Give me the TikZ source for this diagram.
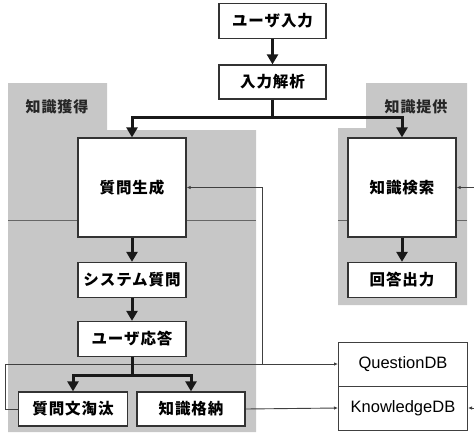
\documentclass[tikz,border=0pt]{standalone}
\usepackage{fontspec}
\newfontfamily\jp{Noto Sans CJK JP}[LetterSpace=6]
\newfontfamily\lat{Liberation Sans}
\usetikzlibrary{arrows.meta}
\begin{document}
\begin{tikzpicture}[x=1pt,y=-1pt,
  box/.style={draw=black!80,line width=1.3pt,fill=white,inner sep=0pt,font=\jp\bfseries\fontsize{15.5}{17}\selectfont},
  dbbox/.style={draw=black!75,line width=1pt,fill=white,inner sep=0pt,minimum width=129pt,minimum height=44pt,font=\lat\fontsize{16.5}{19}\selectfont},
  region/.style={fill=black!22,draw=none},
  seam/.style={draw=black!60,line width=0.8pt},
  bar/.style={line width=3pt,draw=black!90},
  bararrow/.style={bar,-{Triangle[width=11pt,length=10pt]}},
  thin/.style={draw=black!75,line width=0.9pt},
  thinarrow/.style={thin,-{Latex[width=3.5pt,length=4pt]}},
  lbl/.style={font=\jp\bfseries\fontsize{15}{16}\selectfont,text=black!85}
]
\useasboundingbox (0,0) rectangle (474,434);
% shaded regions
\path[region] (8,83) -- (107,83) -- (107,130) -- (256,130) -- (256,432) -- (8,432) -- cycle;
\path[region] (366,83) -- (467,83) -- (467,305) -- (338,305) -- (338,128) -- (366,128) -- cycle;
\node[lbl] (lA) at (57,107) {知識獲得};
\node[lbl] (lB) at (416,107) {知識提供};
% seams
\draw[seam] (8,220) -- (78,220);
\draw[seam] (186,220) -- (256,220);
\draw[seam] (338,220) -- (348,220);
\draw[seam] (456,220) -- (467,220);
% nodes
\node[box,minimum width=107pt,minimum height=35pt] (in1) at (272.5,21) {ユーザ入力};
\node[box,minimum width=107pt,minimum height=34pt] (in2) at (272.5,82) {入力解析};
\node[box,minimum width=108pt,minimum height=99pt] (qgen) at (132,187.5) {質問生成};
\node[box,minimum width=108pt,minimum height=99pt] (ksearch) at (402,187.5) {知識検索};
\node[box,minimum width=108pt,minimum height=35pt] (sysq) at (132,280) {システム質問};
\node[box,minimum width=108pt,minimum height=35pt] (ans) at (402,280) {回答出力};
\node[box,minimum width=108pt,minimum height=35pt] (uans) at (132,339) {ユーザ応答};
\node[box,minimum width=109pt,minimum height=34pt] (prune) at (73,409) {質問文淘汰};
\node[box,minimum width=108pt,minimum height=34pt] (store) at (191,409) {知識格納};
\node[dbbox] (qdb) at (403,364) {QuestionDB};
\node[dbbox] (kdb) at (403,408) {KnowledgeDB};
% coordinates
\coordinate (j1) at (272.5,117);
\coordinate (j2) at (132,375);
\coordinate (c1) at (5,409);
\coordinate (c2) at (5,364);
\coordinate (c3) at (262,364);
\coordinate (c4) at (262,187.5);
\coordinate (r1) at (476,187.5);
\coordinate (r2) at (476,408);
% thin connectors
\draw[thinarrow] (prune.west) -- (c1) -- (c2) -- (qdb.west);
\draw[thinarrow] (c3) -- (c4) -- (qgen.east);
\draw[thinarrow] (store.east) -- (kdb.west);
\draw[thinarrow] (r1) -- (ksearch.east);
\draw[thinarrow] (r2) -- (kdb.east);
% thick connectors
\draw[bararrow] (in1.south) -- (in2.north);
\draw[bar] (in2.south) -- (j1);
\draw[bararrow] (j1) -| (qgen.north);
\draw[bararrow] (j1) -| (ksearch.north);
\draw[bararrow] (qgen.south) -- (sysq.north);
\draw[bararrow] (sysq.south) -- (uans.north);
\draw[bararrow] (ksearch.south) -- (ans.north);
\draw[bar] (uans.south) -- (j2);
\draw[bararrow] (j2) -| (prune.north);
\draw[bararrow] (j2) -| (store.north);
\end{tikzpicture}
\end{document}
